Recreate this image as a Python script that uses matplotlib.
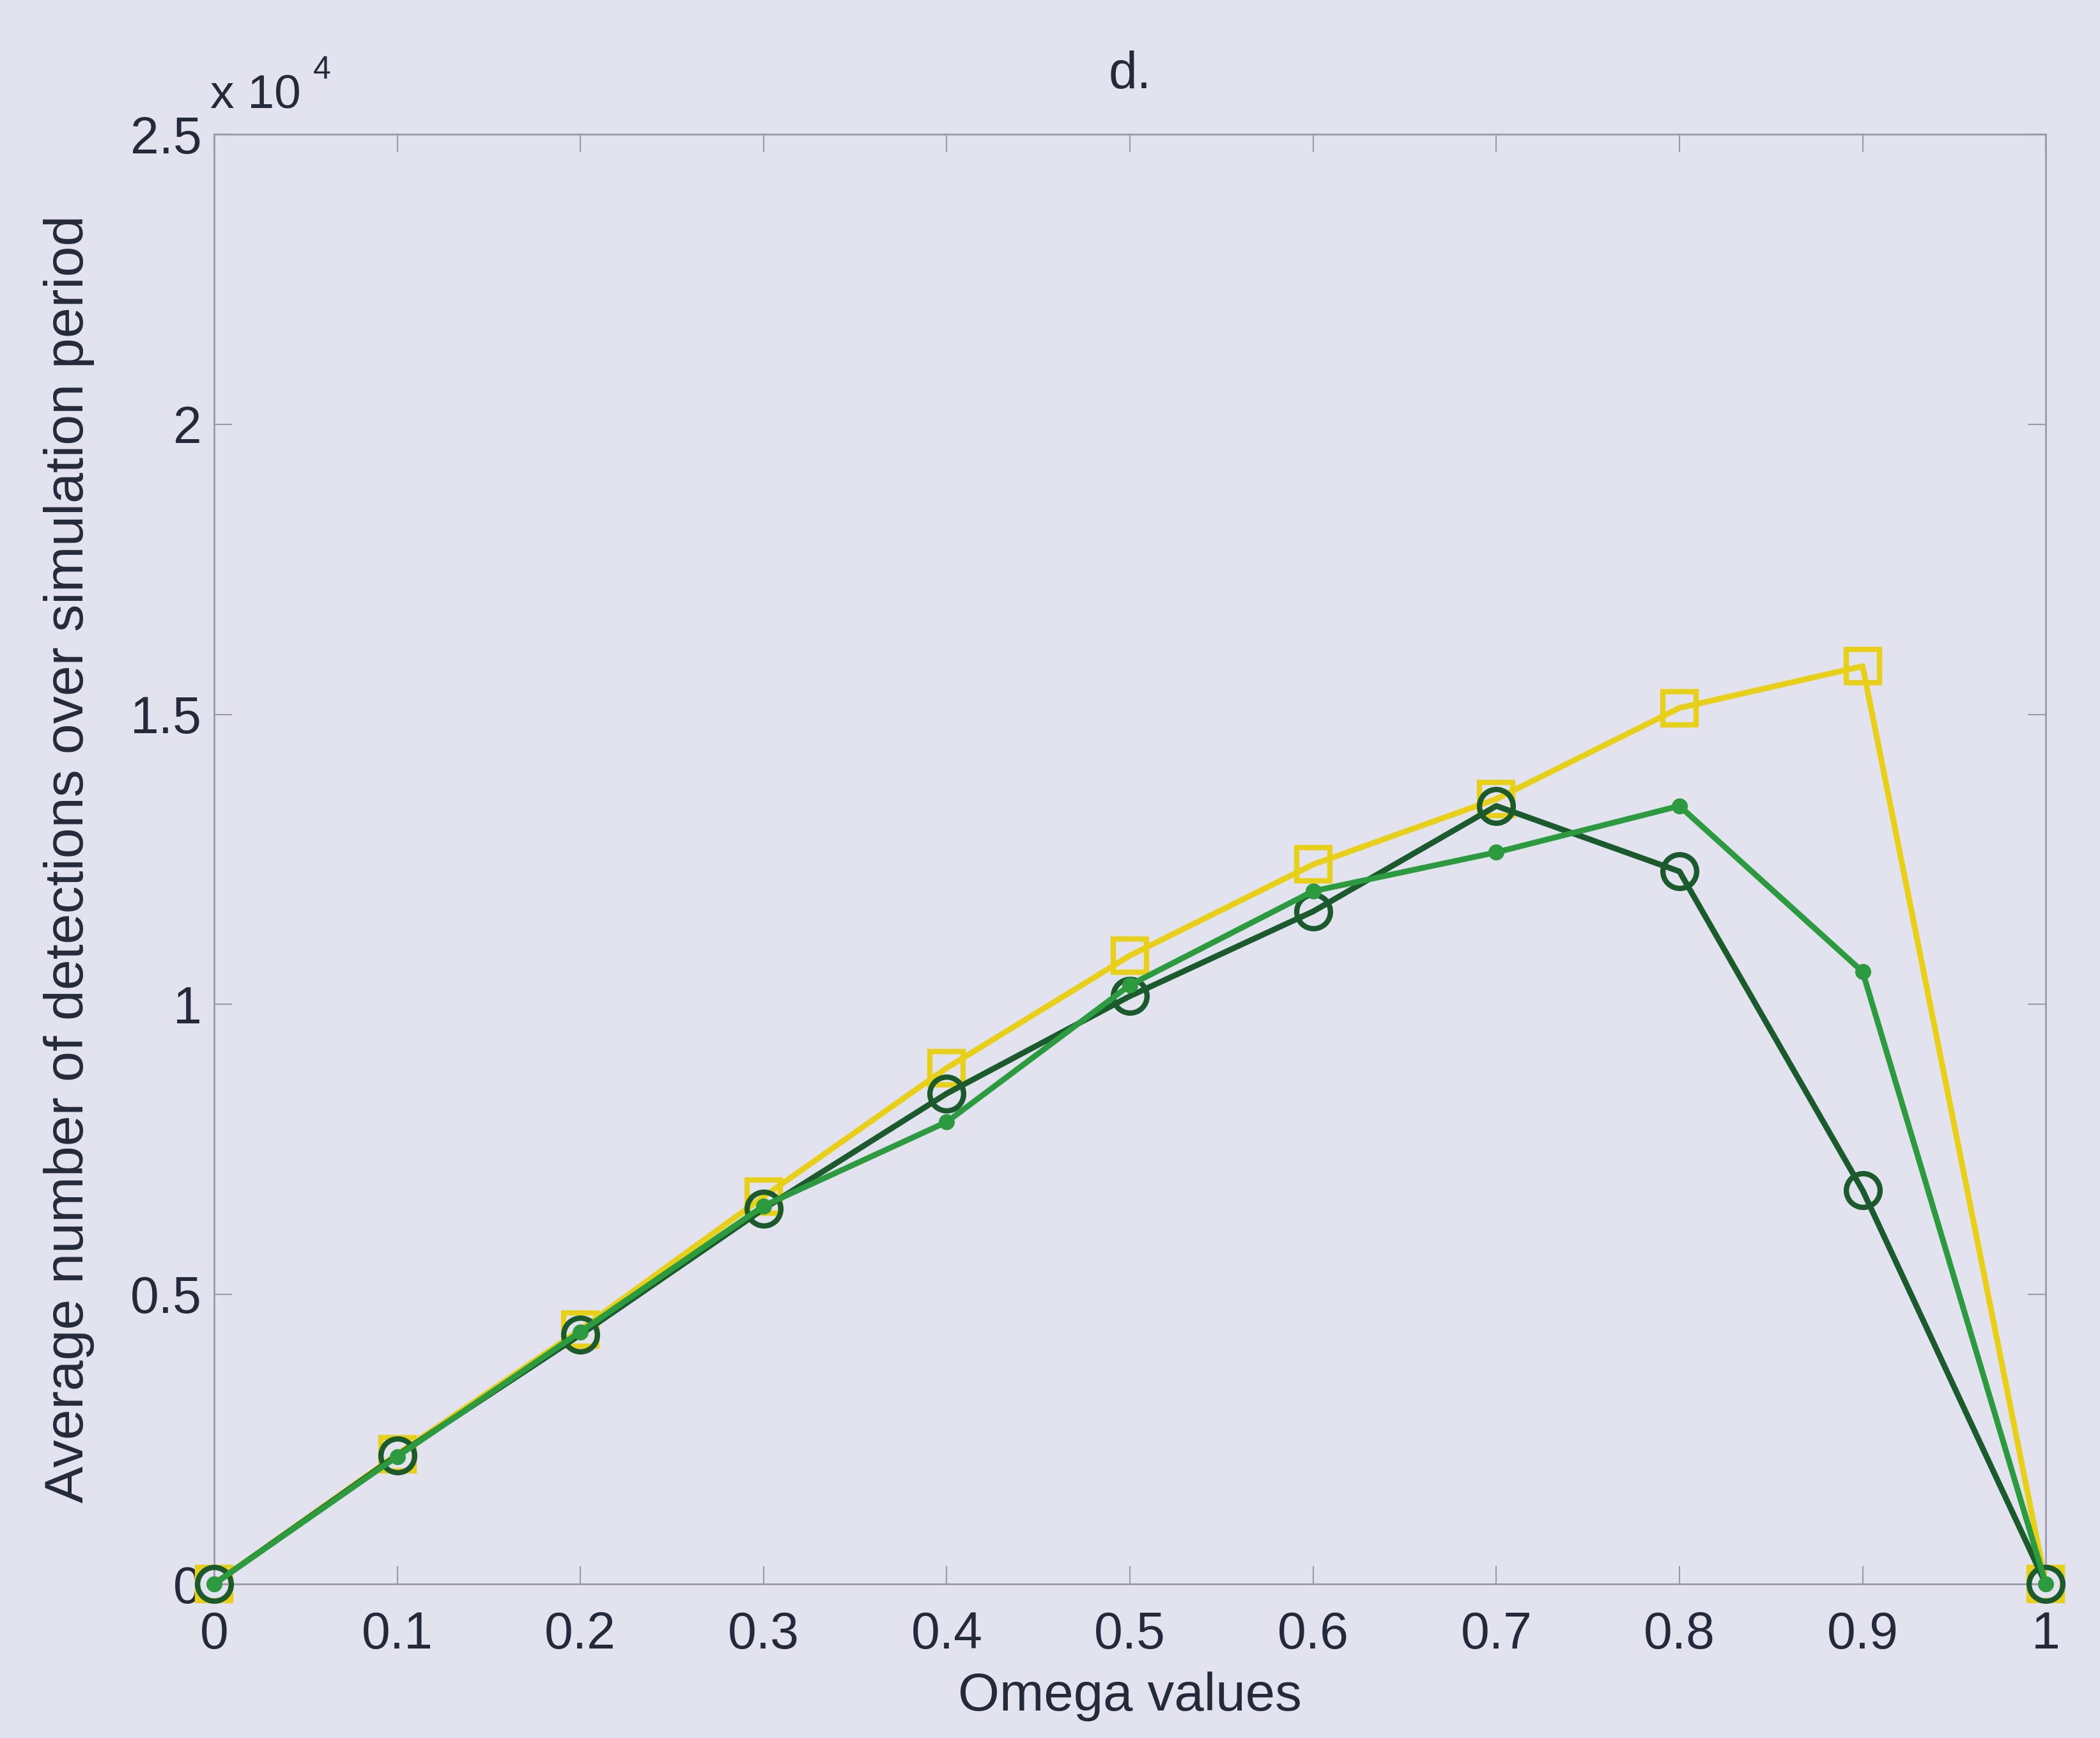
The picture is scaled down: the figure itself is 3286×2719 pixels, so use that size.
import matplotlib.pyplot as plt

# omega sweep and average detections per configuration
omega = [0.0, 0.1, 0.2, 0.3, 0.4, 0.5, 0.6, 0.7, 0.8, 0.9, 1.0]
det_squares = [0, 2240, 4390, 6680, 8900, 10840, 12410, 13540, 15110, 15830, 0]
det_dots = [0, 2200, 4350, 6520, 7970, 10330, 11950, 12620, 13420, 10560, 0]
det_circles = [0, 2220, 4300, 6470, 8460, 10140, 11600, 13420, 12290, 6790, 0]

y_ticks = [0, 5000, 10000, 15000, 20000, 25000]
y_ticklabels = ["0", "0.5", "1", "1.5", "2", "2.5"]
x_ticks = omega
x_ticklabels = ["0", "0.1", "0.2", "0.3", "0.4", "0.5", "0.6", "0.7", "0.8", "0.9", "1"]

BG = "#e3e3ef"
TXT = "#252a3a"
SPINE = "#9a9aa8"
plt.rcParams["font.family"] = ["Liberation Sans", "DejaVu Sans"]

fig = plt.figure(figsize=(32.87, 27.19), dpi=100, facecolor=BG)
ax = fig.add_axes([0.1019, 0.0886, 0.872, 0.834], facecolor=BG)

ax.plot(omega, det_squares, color="#e8cf18", lw=6.5, marker="s", ms=38,
        mfc="none", mec="#e8cf18", mew=6, zorder=3, clip_on=False)
ax.plot(omega, det_circles, color="#1a5a2c", lw=6.5, marker="o", ms=38,
        mfc="none", mec="#1a5a2c", mew=6, zorder=4, clip_on=False)
ax.plot(omega, det_dots, color="#2c9a3e", lw=6.5, marker="o", ms=17,
        mfc="#2c9a3e", mec="#2c9a3e", zorder=5, clip_on=False)

ax.set_xlim(0, 1)
ax.set_ylim(0, 25000)
ax.set_xticks(x_ticks)
ax.set_xticklabels(x_ticklabels)
ax.set_yticks(y_ticks)
ax.set_yticklabels(y_ticklabels)
ax.tick_params(direction="in", length=20, width=1.5, color=SPINE,
               top=True, right=True, labelsize=58, labelcolor=TXT)
ax.tick_params(axis="x", pad=30)
ax.tick_params(axis="y", pad=14)
for sp in ax.spines.values():
    sp.set_color(SPINE)
    sp.set_linewidth(2)

ax.set_xlabel("Omega values", fontsize=60, color=TXT, labelpad=14)
ax.set_ylabel("Average number of detections over simulation period",
              fontsize=62, color=TXT, labelpad=40)
ax.set_title("d.", fontsize=58, color=TXT, pad=52)

# exponent for the y axis
fig.text(0.1, 0.932, "x 10", fontsize=54, color=TXT, ha="left", va="bottom")
fig.text(0.149, 0.951, "4", fontsize=36, color=TXT, ha="left", va="bottom")

fig.savefig("out.png", dpi=100, facecolor=BG)
